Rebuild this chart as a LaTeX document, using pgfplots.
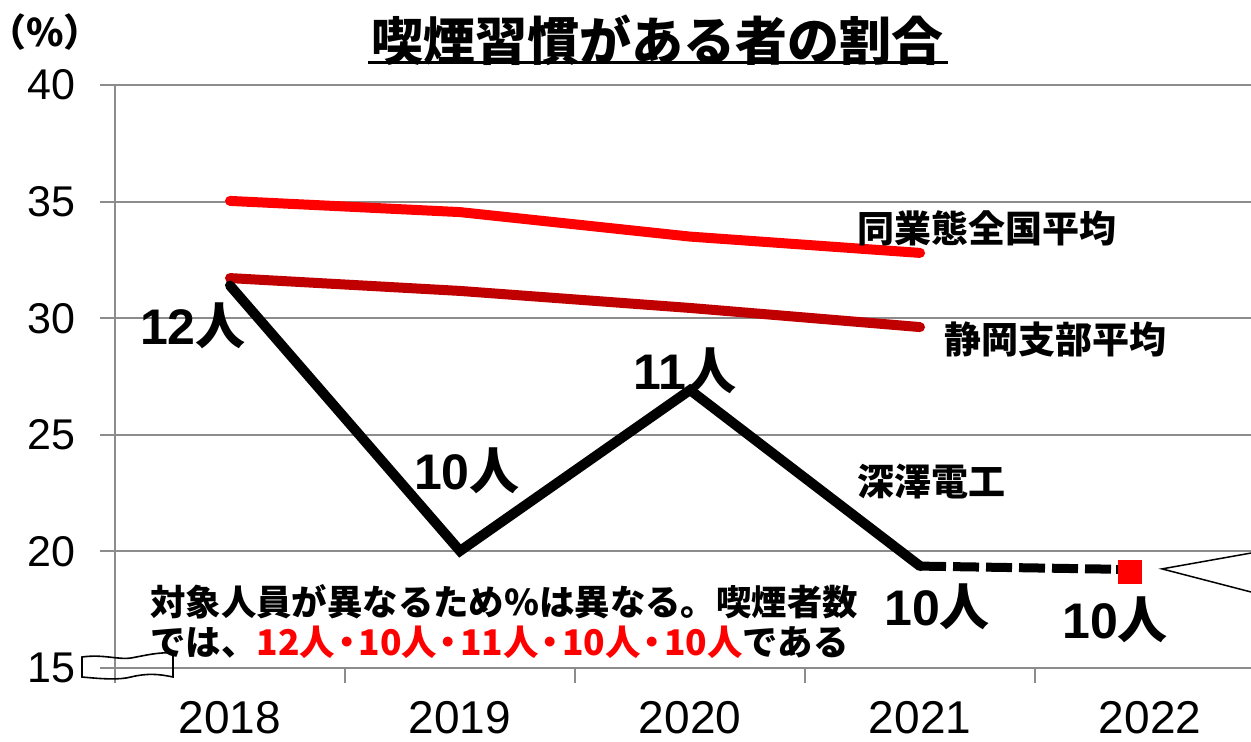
\documentclass[border=0pt]{standalone}
\usepackage{fontspec}
\setmainfont{Liberation Sans}
\newfontfamily\jp{Noto Sans CJK JP}
\usepackage{pgfplots}
\pgfplotsset{compat=1.18}
\definecolor{gridgray}{RGB}{140,140,140}
\definecolor{darkred}{RGB}{192,0,0}
\definecolor{brightred}{RGB}{255,0,0}
\newcommand{\lab}[1]{{\fontsize{25}{25}\selectfont\bfseries #1{\jp\bfseries 人}}}
\newcommand{\dt}{\kern-0.17em・\kern-0.17em}
\begin{document}
\begin{tikzpicture}
\begin{axis}[
  scale only axis,
  width=568pt, height=291.5pt,
  xmin=-0.5, xmax=4.439,
  ymin=15, ymax=40,
  axis lines*=left,
  axis line style={gridgray, line width=1pt},
  ytick={15,20,25,30,35,40},
  xtick={-0.5,0.5,1.5,2.5,3.5},
  xticklabels={},
  extra x ticks={0,1,2,3,4},
  extra x tick labels={2018,2019,2020,2021,2022},
  extra x tick style={major tick length=0pt, grid=none,
     xticklabel style={font=\fontsize{23}{23}\selectfont, yshift=-13pt}},
  tick align=outside,
  major tick length=7.5pt,
  tick style={gridgray, line width=1pt},
  ymajorgrids,
  grid style={gridgray, line width=1pt},
  /pgf/number format/assume math mode=true,
  yticklabel style={font=\fontsize{21.5}{21.5}\selectfont, xshift=-9pt},
  clip=false,
]
\addplot[brightred, line width=5pt, line cap=round] coordinates {(0,35.03)(1,34.55)(2,33.5)(3,32.8)};
\addplot[darkred, line width=5pt, line cap=round] coordinates {(0,31.72)(1,31.17)(2,30.44)(3,29.62)};
\addplot[black, line width=5pt, line cap=round] coordinates {(0,31.4)(1,20.02)(2,26.92)(3,19.37)};
\addplot[black, line width=4.5pt, dash pattern=on 13pt off 3.5pt] coordinates {(3,19.37)(3.948,19.22)};
\addplot[only marks, mark=square*, mark size=5.75pt, brightred, mark options={draw=none}] coordinates {(3.911,19.12)};
\addplot[black, line width=4.5pt] coordinates {(3.85,19.22)(3.948,19.22)};

\node at (axis cs:-0.161,29.67) {\lab{12}};
\node at (axis cs:1.030,23.45) {\lab{10}};
\node at (axis cs:1.978,27.74) {\lab{11}};
\node at (axis cs:3.074,17.62) {\lab{10}};
\node at (axis cs:3.848,17.06) {\lab{10}};

\node[font=\jp\bfseries\fontsize{18.5}{18.5}\selectfont] at (axis cs:3.291,33.87) {同業態全国平均};
\node[font=\jp\bfseries\fontsize{18.5}{18.5}\selectfont] at (axis cs:3.587,29.11) {静岡支部平均};
\node[font=\jp\bfseries\fontsize{18.5}{18.5}\selectfont] at (axis cs:3.048,22.98) {深澤電工};

\node[anchor=west, inner sep=0pt, font=\jp\bfseries\fontsize{17.7}{17.7}\selectfont] at (axis cs:-0.348,17.83) {対象人員が異なるため\%は異なる。喫煙者数};
\node[anchor=west, inner sep=0pt, font=\jp\bfseries\fontsize{17.7}{17.7}\selectfont] at (axis cs:-0.348,16.11) {では、\textcolor{brightred}{12人\dt 10人\dt 11人\dt 10人\dt 10人}である};

\draw[black, line width=0.75pt] (axis cs:4.439,19.93) -- (axis cs:4.052,19.25) -- (axis cs:4.439,18.26);
\end{axis}
% axis break symbol
\draw[black, line width=0.8pt] (-16.5pt,-4.5pt) -- (-16.5pt,5.5pt)
   .. controls (-6pt,7pt) and (2pt,4pt) .. (8pt,5pt)
   .. controls (16pt,6.5pt) and (22pt,8pt) .. (29pt,7.5pt)
   -- (29pt,-4.5pt)
   .. controls (22pt,-3pt) and (16pt,-2.5pt) .. (8pt,-4.5pt)
   .. controls (2pt,-6pt) and (-6pt,-5.5pt) .. cycle;
% title
\node[font=\jp\bfseries\fontsize{26}{26}\selectfont] at (271pt,314pt) {喫煙習慣がある者の割合};
\draw[black, line width=1.5pt] (126.5pt,303pt) -- (416.5pt,303pt);
\node[font=\jp\bfseries\fontsize{19}{19}\selectfont] at (-35pt,318pt) {（\%）};
\pgfresetboundingbox
\useasboundingbox (-57.5pt,-36.5pt) rectangle (568pt,334pt);
\end{tikzpicture}
\end{document}
